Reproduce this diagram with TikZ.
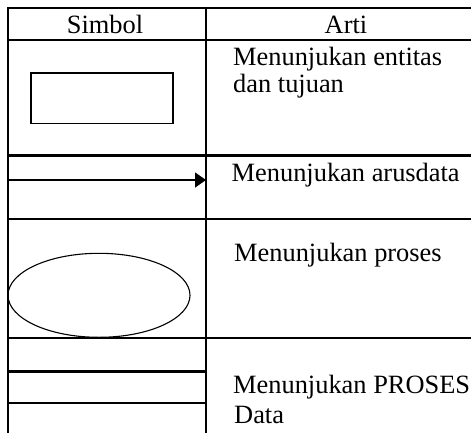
\documentclass[tikz,border=0pt]{standalone}
\usepackage{fontspec}
\setmainfont{Liberation Serif}
\usetikzlibrary{shapes.geometric,arrows.meta}
\begin{document}
\begin{tikzpicture}[x=1pt,y=-1pt,
  grid/.style={line width=2.2pt,line cap=rect},
  thickgrid/.style={line width=3.2pt},
  txt/.style={inner sep=0pt,anchor=base west,font=\fontsize{26.4}{30}\selectfont},
  hdr/.style={inner sep=0pt,anchor=base,font=\fontsize{26.4}{30}\selectfont}]
\useasboundingbox (0,0) rectangle (471,432);
% table grid
\draw[grid] (8,8.3) -- (475,8.3);
\draw[grid] (8,40) -- (475,40);
\draw[grid] (8,155.5) -- (475,155.5);
\draw[grid] (8,219.3) -- (475,219.3);
\draw[grid] (8,338.3) -- (475,338.3);
\draw[grid] (8,8.3) -- (8,436);
\draw[grid] (205.7,8.3) -- (205.7,436);
% header
\node[hdr] (simbol) at (105,33) {Simbol};
\node[hdr] (arti) at (346,33) {Arti};
% row 1: entity
\node[draw,line width=1.6pt,minimum width=142pt,minimum height=50.6pt,inner sep=0pt] (entitas) at (101.7,98) {};
\node[txt] (t1a) at (233,65.5) {Menunjukan entitas};
\node[txt] (t1b) at (233,92.5) {dan tujuan};
% row 2: data flow
\coordinate (fstart) at (8,180);
\coordinate (fend) at (206,180);
\draw[line width=1.4pt,-{Triangle[length=11pt,width=15pt]}] (fstart) -- (fend);
\node[txt] (t2) at (231.5,181) {Menunjukan arusdata};
% row 3: process
\node[draw,ellipse,line width=1.1pt,minimum width=182pt,minimum height=84pt,inner sep=0pt] (proses) at (99,295.3) {};
\node[txt] (t3) at (234,261) {Menunjukan proses};
% row 4: data store
\coordinate (s1a) at (8,371.7);
\coordinate (s1b) at (205.7,371.7);
\coordinate (s2a) at (8,403.3);
\coordinate (s2b) at (205.7,403.3);
\draw[thickgrid] (s1a) -- (s1b);
\draw[grid] (s2a) -- (s2b);
\node[txt] (t4a) at (233,393.5) {Menunjukan PROSES};
\node[txt] (t4b) at (234,423.5) {Data};
\end{tikzpicture}
\end{document}
